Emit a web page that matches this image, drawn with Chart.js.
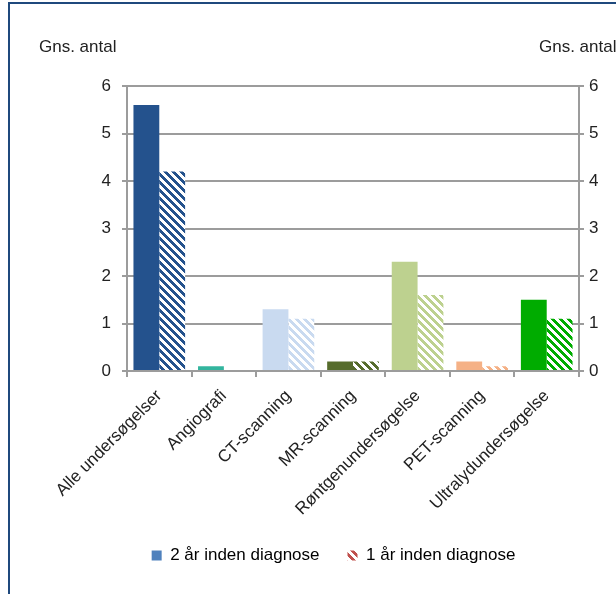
<!DOCTYPE html>
<html>
<head>
<meta charset="utf-8">
<script src="https://cdn.jsdelivr.net/npm/chart.js@4"></script>
<style>
  html, body { margin: 0; padding: 0; background: #fff; }
  #wrap { position: relative; width: 616px; height: 594px; overflow: hidden; }
  #frame { position: absolute; left: 8px; top: 2px; width: 620px; height: 600px;
           border-top: 2px solid #1F497D; border-left: 2px solid #1F497D; }
  .aksetitel { position: absolute; top: 37px; font: 17px "Liberation Sans", Arial, sans-serif; color: #222; white-space: nowrap; }
  canvas { position: absolute; left: 0; top: 0; }
</style>
</head>
<body>
<div id="wrap">
  <div id="frame"></div>
  <canvas id="graf" width="616" height="594"></canvas>
  <span class="aksetitel" style="left:39px">Gns. antal</span>
  <span class="aksetitel" style="left:539px">Gns. antal</span>
</div>
<script>
// Undersøgelsestyper
const kategorier = ['Alle undersøgelser', 'Angiografi', 'CT-scanning', 'MR-scanning',
                    'Røntgenundersøgelse', 'PET-scanning', 'Ultralydundersøgelse'];
// Gns. antal undersøgelser
const toAarFoer = [5.6, 0.1, 1.3, 0.2, 2.3, 0.2, 1.5];
const etAarFoer = [4.2, 0.0, 1.1, 0.2, 1.6, 0.1, 1.1];
const serieNavne = ['2 år inden diagnose', '1 år inden diagnose'];
const yTicks = [0, 1, 2, 3, 4, 5, 6];

const farver = ['#24528D', '#33B59E', '#C9DAF0', '#566C2C', '#BDD18F', '#F5B186', '#00AC00'];

const canvas = document.getElementById('graf');
const ctx = canvas.getContext('2d');
const skrift = { family: '"Liberation Sans", Arial, sans-serif', size: 17 };
const gitter = '#9C9C9C';

// skraveret mønster (nedadgående diagonal)
function skravering(farve) {
    const c = document.createElement('canvas');
    c.width = 8; c.height = 8;
    const g = c.getContext('2d');
    g.fillStyle = '#fff';
    g.fillRect(0, 0, 8, 8);
    g.fillStyle = farve;
    for (let y = 0; y < 8; y++) {
        for (let x = 0; x < 8; x++) {
            if (((x - y) % 8 + 8) % 8 < 4) g.fillRect(x, y, 1, 1);
        }
    }
    return ctx.createPattern(c, 'repeat');
}

new Chart(ctx, {
    type: 'bar',
    data: {
        labels: kategorier,
        datasets: [
            { label: serieNavne[0], data: toAarFoer, backgroundColor: farver, borderWidth: 0,
              categoryPercentage: 0.8, barPercentage: 1.0 },
            { label: serieNavne[1], data: etAarFoer, backgroundColor: farver.map(skravering), borderWidth: 0,
              categoryPercentage: 0.8, barPercentage: 1.0 }
        ]
    },
    options: {
        responsive: false,
        animation: false,
        // venstre padding forskyder legenden mod højre som i originalen
        layout: { padding: { top: 86, bottom: 20, left: 51, right: 0 } },
        plugins: {
            tooltip: { enabled: false },
            legend: {
                position: 'bottom',
                labels: {
                    color: '#222',
                    font: skrift,
                    boxWidth: 10,
                    boxHeight: 10,
                    padding: 28,
                    generateLabels: function() {
                        return [
                            { text: serieNavne[0], fillStyle: '#4F81BD', lineWidth: 0, strokeStyle: 'rgba(0,0,0,0)', datasetIndex: 0 },
                            { text: serieNavne[1], fillStyle: skravering('#C0504D'), lineWidth: 0, strokeStyle: 'rgba(0,0,0,0)', datasetIndex: 1 }
                        ];
                    }
                }
            }
        },
        scales: {
            x: {
                afterFit: function(s) { s.height = 148; },
                grid: { display: true, drawOnChartArea: false, drawTicks: true, tickLength: 6, color: gitter, lineWidth: 2, offset: true },
                border: { display: true, color: gitter, width: 2 },
                ticks: { color: '#222', font: skrift, minRotation: 45, maxRotation: 45, padding: 9, autoSkip: false }
            },
            y: {
                position: 'left',
                min: 0, max: 6,
                afterFit: function(s) { s.width = 76; },
                afterBuildTicks: function(s) { s.ticks = yTicks.map(v => ({ value: v })); },
                grid: { color: gitter, lineWidth: 2, tickLength: 5 },
                border: { display: true, color: gitter, width: 2 },
                ticks: { color: '#222', font: skrift, padding: 11 }
            },
            y2: {
                position: 'right',
                min: 0, max: 6,
                afterFit: function(s) { s.width = 37; },
                afterBuildTicks: function(s) { s.ticks = yTicks.map(v => ({ value: v })); },
                grid: { drawOnChartArea: false, color: gitter, lineWidth: 2, tickLength: 5 },
                border: { display: true, color: gitter, width: 2 },
                ticks: { color: '#222', font: skrift, padding: 5 }
            }
        }
    }
});
</script>
</body>
</html>
